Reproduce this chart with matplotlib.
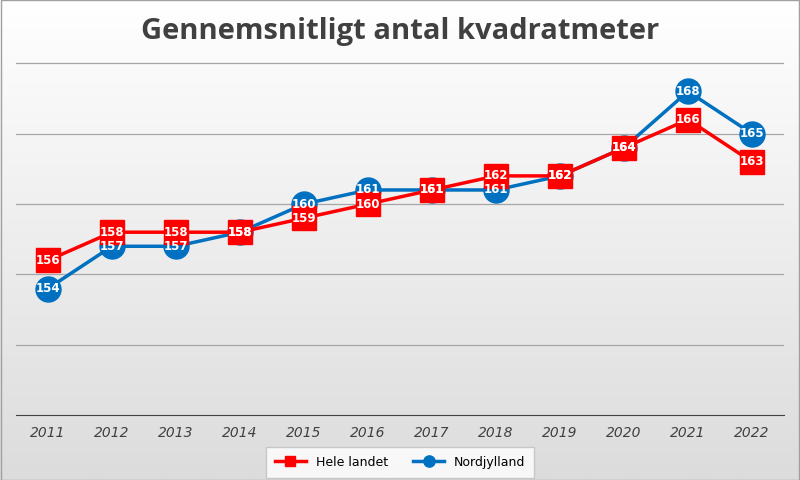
import matplotlib.pyplot as plt
import numpy as np

years = ["2011", "2012", "2013", "2014", "2015", "2016", "2017", "2018", "2019", "2020", "2021", "2022"]
hele_landet = [156, 158, 158, 158, 159, 160, 161, 162, 162, 164, 166, 163]
nordjylland = [154, 157, 157, 158, 160, 161, 161, 161, 162, 164, 168, 165]

fig = plt.figure(figsize=(8, 4.8), dpi=100)
# background gradient
bg = fig.add_axes([0, 0, 1, 1], zorder=-10)
grad = np.linspace(1.0, 0.0, 256).reshape(-1, 1)
bg.imshow(grad, aspect="auto", cmap=plt.cm.colors.LinearSegmentedColormap.from_list("g", ["#dcdcdc", "#ffffff"]),
          extent=[0, 1, 0, 1])
bg.axis("off")
fig.patches.append(plt.Rectangle((0.001, 0.001), 0.998, 0.998, transform=fig.transFigure,
                                 fill=False, edgecolor="#a0a0a0", lw=1))

ax = fig.add_axes([0.02, 0.135, 0.96, 0.7625])
ax.set_facecolor("none")
x = np.arange(len(years))
ax.set_xlim(-0.5, len(years) - 0.5)
ax.set_ylim(145, 171)
ax.set_yticks([150, 155, 160, 165, 170])
ax.set_yticklabels([])
ax.tick_params(axis="y", length=0)
ax.tick_params(axis="x", length=0, pad=8)
ax.grid(axis="y", color="#a6a6a6", lw=0.9)
for s in ["top", "right", "left"]:
    ax.spines[s].set_visible(False)
ax.spines["bottom"].set_color("#404040")
ax.set_xticks(x)
ax.set_xticklabels(years, fontstyle="italic", fontsize=10, color="#404040")

ax.plot(x, nordjylland, color="#0070c0", lw=2.5, marker="o", ms=18, label="Nordjylland", zorder=3)
ax.plot(x, hele_landet, color="#ff0000", lw=2.5, marker="s", ms=17, label="Hele landet", zorder=4)
for xi, v in zip(x, nordjylland):
    ax.text(xi, v, str(v), color="white", fontsize=8.5, fontweight="bold", ha="center", va="center", zorder=5)
for xi, v in zip(x, hele_landet):
    ax.text(xi, v, str(v), color="white", fontsize=8.5, fontweight="bold", ha="center", va="center", zorder=6)

h, l = ax.get_legend_handles_labels()
leg = fig.legend(h[::-1], l[::-1], loc="lower center", bbox_to_anchor=(0.5, 0.0), ncol=2,
                 frameon=True, fontsize=9, markerscale=0.45, handlelength=2.5)
leg.get_frame().set_edgecolor("#bfbfbf")
leg.get_frame().set_facecolor("white")
leg.get_frame().set_boxstyle("square")

fig.text(0.5, 0.935, "Gennemsnitligt antal kvadratmeter", ha="center", va="center",
         fontsize=21, fontweight="bold", color="#404040", family="Open Sans")

fig.savefig("out.png", dpi=100)
